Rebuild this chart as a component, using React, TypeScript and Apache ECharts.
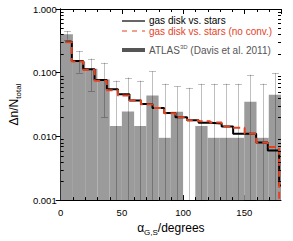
import React, { useEffect, useRef } from "react";
import * as echarts from "echarts";

const FONT = "'Liberation Sans', Arial, Helvetica, sans-serif";

// ATLAS3D histogram (10 degree bins)
const binEdges = [0, 10, 20, 30, 40, 50, 60, 70, 80, 90, 100, 110, 120, 130, 140, 150, 160, 170, 180];
const atlasValues = [0.40, 0.15, 0.115, 0.078, 0.0145, 0.0245, 0.0145, 0.044, 0.0095, 0.0243, 0, 0.0145, 0.0095, 0.0095, 0.0095, 0.035, 0.0095, 0.045];
const atlasErrHigh = [0.45, 0.22, 0.167, 0.143, 0.075, 0.084, 0.075, 0.105, 0.067, 0.061, 0.058, 0.067, 0.067, 0.067, 0.067, 0.093, 0.067, 0.099];
const atlasErrLow = [0.33, 0.10, 0.051, 0.020, 0, 0, 0, 0, 0, 0, 0, 0, 0, 0, 0, 0, 0, 0];

// model step histograms
const modelEdges = [4, 9.1, 18.4, 27.7, 37.7, 46.8, 56.2, 65.6, 75.0, 84.5, 93.8, 103.3, 112.7, 122.1, 131.5, 140.9, 150.3, 159.7, 169.2, 178.5, 180];
const gasVsStars = [0.305, 0.152, 0.113, 0.077, 0.055, 0.046, 0.0365, 0.0324, 0.028, 0.0234, 0.020, 0.018, 0.0164, 0.016, 0.0143, 0.011, 0.011, 0.008, 0.006, 0.0017];
const gasVsStarsNoConv = [0.30, 0.15, 0.11, 0.075, 0.053, 0.044, 0.037, 0.032, 0.028, 0.023, 0.020, 0.018, 0.0173, 0.0165, 0.0143, 0.0137, 0.011, 0.008, 0.0068, 0.0003];

const xMinorTicks = [10, 20, 30, 40, 60, 70, 80, 90, 110, 120, 130, 140, 160, 170];
const yMinorTicks = [
  0.002, 0.003, 0.004, 0.005, 0.006, 0.007, 0.008, 0.009,
  0.02, 0.03, 0.04, 0.05, 0.06, 0.07, 0.08, 0.09,
  0.2, 0.3, 0.4, 0.5, 0.6, 0.7, 0.8, 0.9,
];

const RED = "#e5421f";

function stepPoints(edges: number[], levels: number[]) {
  const pts: number[][] = [];
  levels.forEach((v, i) => {
    pts.push([edges[i], v]);
    pts.push([edges[i + 1], v]);
  });
  return pts;
}

export default function App() {
  const ref = useRef<HTMLDivElement>(null);
  useEffect(() => {
    if (!ref.current) return;
    const chart = echarts.init(ref.current, null, { renderer: "svg" });
    const tickStyle = { color: "#000", width: 1 };
    const option: any = {
      animation: false,
      backgroundColor: "#fff",
      grid: { left: 38, top: 9, right: 12, bottom: 40, containLabel: false },
      xAxis: [
        {
          type: "value", min: 0, max: 180, interval: 50, position: "bottom",
          axisLine: { show: true, lineStyle: { color: "#000", width: 1 } },
          axisTick: { show: true, inside: true, length: 5, lineStyle: tickStyle },
          axisLabel: { fontSize: 9.5, color: "#000", fontFamily: FONT, margin: 7, showMaxLabel: false },
          splitLine: { show: false },
          name: "{a|α}{s|G,S}{a|/degrees}",
          nameLocation: "middle",
          nameGap: 15,
          nameTextStyle: {
            rich: {
              a: { fontSize: 12, fontFamily: FONT, color: "#000", lineHeight: 16 },
              s: { fontSize: 8, fontFamily: FONT, color: "#000", lineHeight: 8, verticalAlign: "bottom" },
            },
          },
        },
        {
          type: "value", min: 0, max: 180, interval: 50, position: "top",
          axisLine: { show: true, lineStyle: { color: "#000", width: 1 } },
          axisTick: { show: true, inside: true, length: 5, lineStyle: tickStyle },
          axisLabel: { show: false },
          splitLine: { show: false },
        },
      ],
      yAxis: [
        {
          type: "log", logBase: 10, min: 0.001, max: 1, position: "left",
          axisLine: { show: true, lineStyle: { color: "#000", width: 1 } },
          axisTick: { show: true, inside: true, length: 5, lineStyle: tickStyle },
          axisLabel: {
            fontSize: 9.5, color: "#000", fontFamily: FONT, margin: 4,
            formatter: (v: number) => v.toFixed(3),
          },
          splitLine: { show: false },
          name: "{a|Δn/N}{s|total}",
          nameLocation: "middle",
          nameGap: 22,
          nameRotate: 90,
          nameTextStyle: {
            rich: {
              a: { fontSize: 12, fontFamily: FONT, color: "#000", lineHeight: 16 },
              s: { fontSize: 8, fontFamily: FONT, color: "#000", lineHeight: 8, verticalAlign: "bottom" },
            },
          },
        },
        {
          type: "log", logBase: 10, min: 0.001, max: 1, position: "right",
          axisLine: { show: true, lineStyle: { color: "#000", width: 1 } },
          axisTick: { show: true, inside: true, length: 5, lineStyle: tickStyle },
          axisLabel: { show: false },
          splitLine: { show: false },
        },
      ],
      series: [
        {
          type: "custom",
          name: "ATLAS3D",
          data: atlasValues.map((v, i) => [binEdges[i], binEdges[i + 1], v]),
          encode: { x: [0, 1], y: 2 },
          z: 1,
          renderItem: (params: any, api: any) => {
            const v = api.value(2);
            if (!(v > 0)) return null;
            const a = api.coord([api.value(0), v]);
            const b = api.coord([api.value(1), 0.001]);
            return {
              type: "rect",
              shape: { x: a[0], y: a[1], width: b[0] - a[0], height: b[1] - a[1] },
              style: { fill: "#9b9b9b" },
            };
          },
        },
        {
          type: "custom",
          name: "errors",
          data: atlasErrHigh.map((h, i) => [(binEdges[i] + binEdges[i + 1]) / 2, atlasErrLow[i], h]),
          encode: { x: 0, y: 2 },
          z: 2,
          renderItem: (params: any, api: any) => {
            const c = api.value(0);
            const lo = api.value(1);
            const hi = api.value(2);
            const top = api.coord([c, hi]);
            const bot = api.coord([c, lo > 0 ? lo : 0.001]);
            const x = Math.round(top[0]) + 0.5;
            const st = { stroke: "rgba(0,0,0,0.25)", lineWidth: 1 };
            const children: any[] = [
              { type: "line", shape: { x1: x, y1: top[1], x2: x, y2: bot[1] }, style: st },
              { type: "line", shape: { x1: x - 3.5, y1: Math.round(top[1]) + 0.5, x2: x + 3.5, y2: Math.round(top[1]) + 0.5 }, style: st },
            ];
            if (lo > 0) {
              children.push({ type: "line", shape: { x1: x - 3.5, y1: Math.round(bot[1]) + 0.5, x2: x + 3.5, y2: Math.round(bot[1]) + 0.5 }, style: st });
            }
            return { type: "group", children };
          },
        },
        {
          type: "line",
          name: "gas disk vs. stars",
          data: stepPoints(modelEdges, gasVsStars),
          showSymbol: false,
          symbol: "none",
          clip: true,
          z: 5,
          lineStyle: { color: "#000", width: 2 },
        },
        {
          type: "line",
          name: "gas disk vs. stars (no conv.)",
          data: stepPoints(modelEdges, gasVsStarsNoConv),
          showSymbol: false,
          symbol: "none",
          clip: true,
          z: 6,
          lineStyle: { color: RED, width: 2, type: [7, 4] },
        },
        {
          type: "custom",
          name: "xminor",
          data: xMinorTicks.map((v) => [v, 0.01]),
          encode: { x: 0, y: 1 },
          z: 10,
          renderItem: (params: any, api: any) => {
            const p = api.coord([api.value(0), 0.001]);
            const q = api.coord([api.value(0), 1]);
            const x = Math.round(p[0]) + 0.5;
            const st = { stroke: "#000", lineWidth: 1 };
            return {
              type: "group",
              children: [
                { type: "line", shape: { x1: x, y1: p[1], x2: x, y2: p[1] - 3 }, style: st },
                { type: "line", shape: { x1: x, y1: q[1], x2: x, y2: q[1] + 3 }, style: st },
              ],
            };
          },
        },
        {
          type: "custom",
          name: "yminor",
          data: yMinorTicks.map((v) => [90, v]),
          encode: { x: 0, y: 1 },
          z: 10,
          renderItem: (params: any, api: any) => {
            const p = api.coord([0, api.value(1)]);
            const q = api.coord([180, api.value(1)]);
            const y = Math.round(p[1]) + 0.5;
            const st = { stroke: "#000", lineWidth: 1 };
            return {
              type: "group",
              children: [
                { type: "line", shape: { x1: p[0], y1: y, x2: p[0] + 3, y2: y }, style: st },
                { type: "line", shape: { x1: q[0], y1: y, x2: q[0] - 3, y2: y }, style: st },
              ],
            };
          },
        },
      ],
      graphic: [
        { type: "line", shape: { x1: 122, y1: 21, x2: 145, y2: 21 }, style: { stroke: "#000", lineWidth: 1.2 }, z: 20 },
        { type: "line", shape: { x1: 122, y1: 31, x2: 145, y2: 31 }, style: { stroke: RED, lineWidth: 1.2, lineDash: [5, 5] }, z: 20 },
        { type: "line", shape: { x1: 122, y1: 50, x2: 145, y2: 50 }, style: { stroke: "#555", lineWidth: 4 }, z: 20 },
        {
          type: "text", x: 149, y: 20, z: 20,
          style: { text: "gas disk vs. stars", fill: "#000", font: `10px ${FONT}`, verticalAlign: "middle" },
        },
        {
          type: "text", x: 149, y: 31, z: 20,
          style: { text: "gas disk vs. stars (no conv.)", fill: RED, font: `10px ${FONT}`, verticalAlign: "middle" },
        },
        {
          type: "text", x: 149, y: 50, z: 20,
          style: {
            text: "{n|ATLAS}{p|3D}{n| (Davis et al. 2011)}",
            verticalAlign: "middle",
            rich: {
              n: { fontSize: 10, fontFamily: FONT, fill: "#555", lineHeight: 12 },
              p: { fontSize: 6, fontFamily: FONT, fill: "#555", lineHeight: 7, verticalAlign: "top" },
            },
          },
        },
      ],
    };
    chart.setOption(option);
    return () => chart.dispose();
  }, []);
  return <div ref={ref} style={{ position: "absolute", left: 0, top: 0, width: 293, height: 241 }} />;
}
